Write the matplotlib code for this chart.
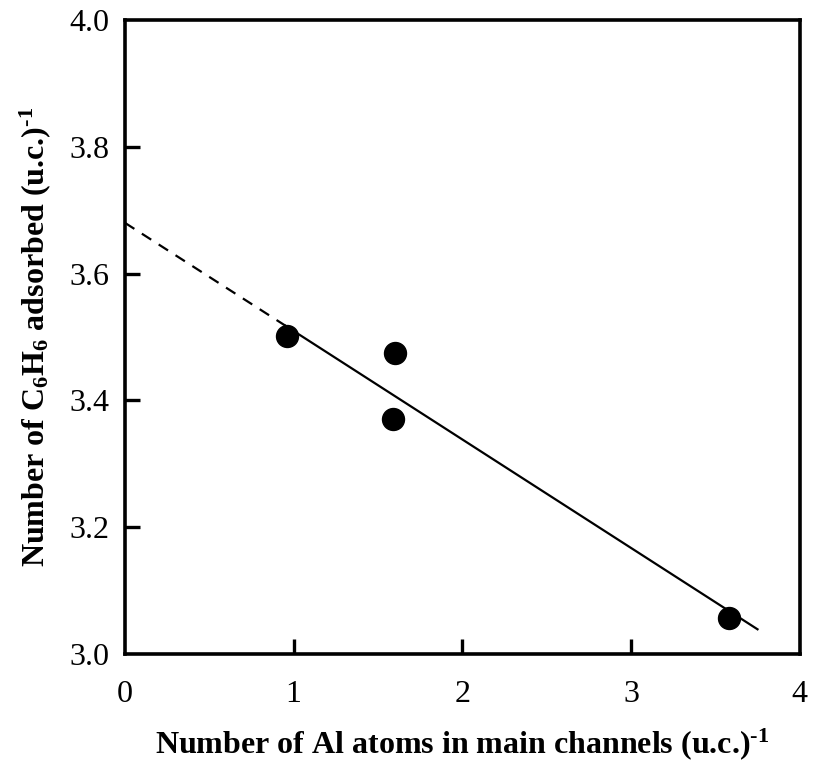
import matplotlib
matplotlib.use('Agg')
import matplotlib.pyplot as plt

plt.rcParams['font.family'] = 'Liberation Serif'
plt.rcParams['mathtext.fontset'] = 'custom'
plt.rcParams['mathtext.rm'] = 'Liberation Serif:bold'
plt.rcParams['mathtext.bf'] = 'Liberation Serif:bold'
plt.rcParams['mathtext.it'] = 'Liberation Serif:bold'

# measured points
al_atoms = [0.96, 1.60, 1.59, 3.58]
benzene = [3.502, 3.475, 3.371, 3.057]

# fitted line: dashed extrapolation then solid part
fit_x_dash = [0.0, 0.95]
fit_y_dash = [3.68, 3.518]
fit_x_solid = [0.95, 3.75]
fit_y_solid = [3.518, 3.039]

xticks_ = [0, 1, 2, 3, 4]
yticks_ = [3.0, 3.2, 3.4, 3.6, 3.8, 4.0]

fig = plt.figure(figsize=(8.16, 7.81), dpi=100)
ax = fig.add_axes([0.1532, 0.1626, 0.8268, 0.8118])

ax.plot(fit_x_dash, fit_y_dash, color='black', lw=1.6, ls=(0, (5, 4)))
ax.plot(fit_x_solid, fit_y_solid, color='black', lw=1.6)
ax.scatter(al_atoms, benzene, s=250, color='black', zorder=3)

ax.set_xlim(0, 4)
ax.set_ylim(3.0, 4.0)
ax.set_xticks(xticks_)
ax.set_yticks(yticks_)
ax.set_xticklabels([str(t) for t in xticks_])
ax.set_yticklabels(['%.1f' % t for t in yticks_])

for s in ax.spines.values():
    s.set_linewidth(2.6)

ax.tick_params(axis='x', direction='in', length=11, width=2.4, pad=19, labelsize=23)
ax.tick_params(axis='y', direction='in', length=11, width=2.4, pad=11, labelsize=23)
# no tick marks at the corners
for t in [ax.xaxis.get_major_ticks()[0], ax.xaxis.get_major_ticks()[-1],
          ax.yaxis.get_major_ticks()[0], ax.yaxis.get_major_ticks()[-1]]:
    t.tick1line.set_visible(False)

ax.set_xlabel(r'Number of Al atoms in main channels (u.c.)$^{\text{-1}}$',
              fontsize=23, fontweight='bold', labelpad=12)
ax.set_ylabel(r'Number of C$_\mathbf{6}$H$_\mathbf{6}$ adsorbed (u.c.)$^{\text{-1}}$',
              fontsize=23, fontweight='bold', labelpad=12)

fig.savefig('out.png', dpi=100)
